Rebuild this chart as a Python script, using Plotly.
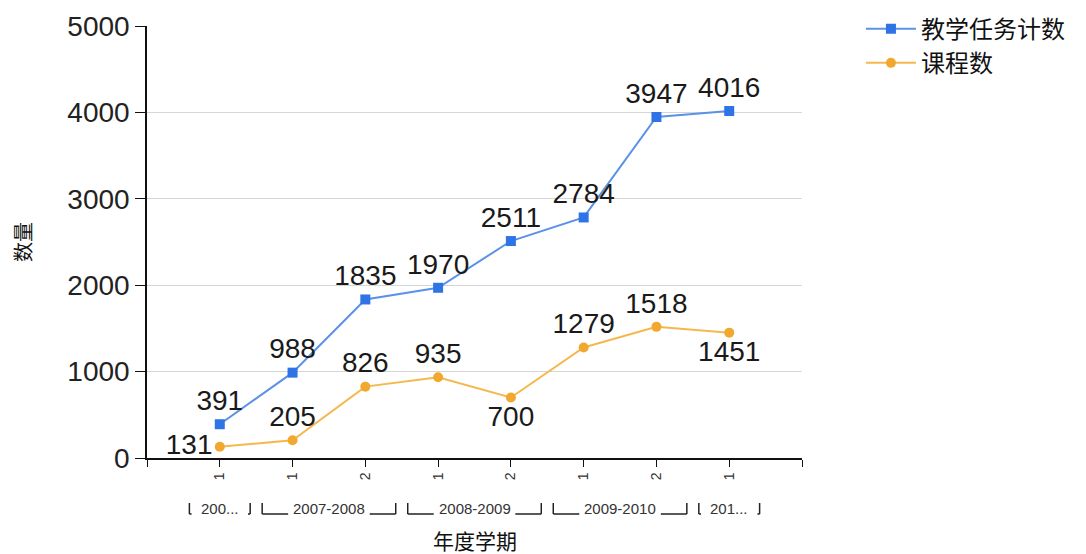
import plotly.graph_objects as go

# ---- data ----
semesters = ["1", "1", "2", "1", "2", "1", "2", "1"]
group_labels = ["200...", "2007-2008", "2008-2009", "2009-2010", "201..."]
group_sizes = [1, 2, 2, 2, 1]
tasks = [391, 988, 1835, 1970, 2511, 2784, 3947, 4016]
courses = [131, 205, 826, 935, 700, 1279, 1518, 1451]
series_names = ["教学任务计数", "课程数"]
y_title = "数量"
x_title = "年度学期"

tasks_pos = ["top center"] * 8
courses_pos = ["middle left", "top center", "top center", "top center",
               "bottom center", "top center", "top center", "bottom center"]

FONT = "Arial, Liberation Sans, Noto Sans CJK SC, sans-serif"
CJK = "Noto Sans CJK SC, sans-serif"

xs = list(range(1, len(semesters) + 1))

fig = go.Figure()
fig.add_trace(go.Scatter(
    x=xs, y=tasks, name=series_names[0], mode="lines+markers+text",
    line=dict(color="#5a92e8", width=2),
    marker=dict(symbol="square", size=10, color="#2f74e6"),
    text=[str(v) for v in tasks], textposition=tasks_pos,
    textfont=dict(family=FONT, size=28, color="#1a1a1a"), cliponaxis=False,
))
fig.add_trace(go.Scatter(
    x=xs, y=courses, name=series_names[1], mode="lines+markers+text",
    line=dict(color="#f5b84c", width=2),
    marker=dict(symbol="circle", size=10, color="#f0a92e"),
    text=[str(v) for v in courses], textposition=courses_pos,
    textfont=dict(family=FONT, size=28, color="#1a1a1a"), cliponaxis=False,
))

W, H = 1086, 554
ml, mr, mt, mb = 147, 284, 26, 96
pw = W - ml - mr
ph = H - mt - mb
n_slots = len(semesters) + 1
unit_px = pw / n_slots

def py(px_below):
    # pixel distance below plot bottom -> paper y
    return -px_below / ph

shapes = []
annotations = []
start = 1
inset = 6 / unit_px
char_px = 8.4
y_bot = py(56)
y_top = py(45)
y_txt = py(50)
for lab, sz in zip(group_labels, group_sizes):
    end = start + sz - 1
    L = start - 0.5 + inset
    R = end + 0.5 - inset
    c = (start + end) / 2
    hw = (len(lab) * char_px / 2 + 3) / unit_px
    line = dict(color="#222222", width=1.5)
    shapes.append(dict(type="line", xref="x", yref="paper", x0=L, x1=L, y0=y_bot, y1=y_top, line=line))
    shapes.append(dict(type="line", xref="x", yref="paper", x0=R, x1=R, y0=y_bot, y1=y_top, line=line))
    if c - hw - L > 0.02:
        shapes.append(dict(type="line", xref="x", yref="paper", x0=L, x1=c - hw, y0=y_bot, y1=y_bot, line=line))
    if R - (c + hw) > 0.02:
        shapes.append(dict(type="line", xref="x", yref="paper", x0=c + hw, x1=R, y0=y_bot, y1=y_bot, line=line))
    annotations.append(dict(x=c, y=y_txt, xref="x", yref="paper", text=lab, showarrow=False,
                            font=dict(family=FONT, size=15, color="#333333"),
                            xanchor="center", yanchor="middle"))
    start = end + 1

annotations.append(dict(x=0.5, y=py(82), xref="paper", yref="paper", text=x_title, showarrow=False,
                        font=dict(family=CJK, size=21, color="#111111"), xanchor="center", yanchor="middle"))
annotations.append(dict(x=-125 / pw, y=0.5, xref="paper", yref="paper", text=y_title, showarrow=False,
                        textangle=-90, font=dict(family=CJK, size=20, color="#111111"),
                        xanchor="center", yanchor="middle"))

fig.update_layout(
    width=W, height=H,
    margin=dict(l=ml, r=mr, t=mt, b=mb, pad=0, autoexpand=False),
    paper_bgcolor="white", plot_bgcolor="white",
    font=dict(family=FONT, color="#222222"),
    showlegend=True,
    legend=dict(x=1.09, y=1.045, xanchor="left", yanchor="top",
                font=dict(family=CJK, size=24, color="#111111"),
                bgcolor="rgba(0,0,0,0)", tracegroupgap=0, itemwidth=50),
    shapes=shapes, annotations=annotations,
)
fig.update_xaxes(
    range=[0, n_slots], tickmode="array",
    tickvals=list(range(0, n_slots + 1)),
    ticktext=[""] + semesters + [""],
    tickangle=-90, ticks="outside", ticklen=7, tickcolor="#111111",
    tickfont=dict(family=FONT, size=14, color="#333333"),
    showline=True, linecolor="#111111", linewidth=1.5,
    showgrid=False, zeroline=False,
)
fig.update_yaxes(
    range=[0, 5000], dtick=1000, tickmode="linear", tick0=0,
    ticks="outside", ticklen=10, tickcolor="#111111",
    tickfont=dict(family=FONT, size=28, color="#222222"),
    showline=True, linecolor="#111111", linewidth=1.5,
    showgrid=True, gridcolor="#d6d6d6", gridwidth=1, zeroline=False,
)

fig.write_html("out.html", config={"displayModeBar": False},
               post_script="document.body.style.margin='0';document.body.style.overflow='hidden';")
